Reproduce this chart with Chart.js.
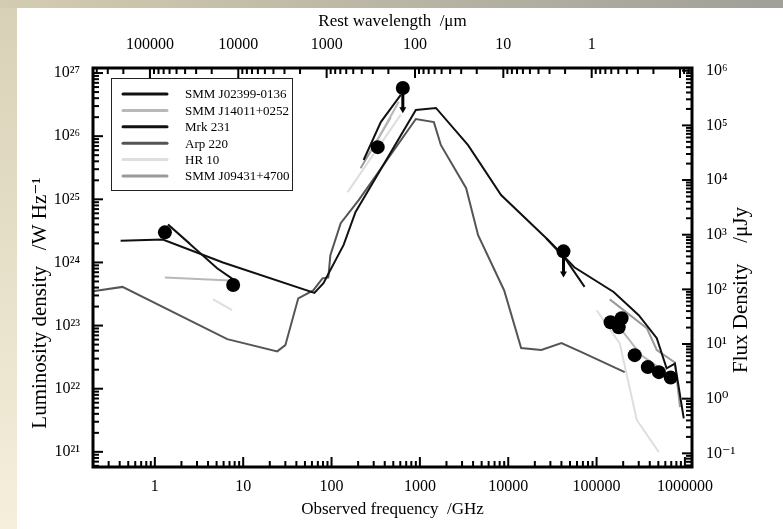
<!DOCTYPE html>
<html>
<head>
<meta charset="utf-8">
<script src="https://cdn.jsdelivr.net/npm/chart.js@4.4.0/dist/chart.umd.min.js"></script>
<style>
  body { margin: 0; width: 783px; height: 529px; overflow: hidden; position: relative;
         background: linear-gradient(180deg, #d8d0b6, #f5efdc); }
  #topstrip { position: absolute; left: 0; top: 0; width: 783px; height: 8px;
              background: linear-gradient(90deg, #d4ccb2, #a0a098); }
  #panel { position: absolute; left: 17px; top: 8px; right: 0; bottom: 0; background: #fff; }
  canvas { position: absolute; left: 0; top: 0; }
</style>
</head>
<body>
<div id="topstrip"></div>
<div id="panel"></div>
<canvas id="sed" width="783" height="529"></canvas>
<script>
// [observed frequency GHz, luminosity density W/Hz], null = gap in the line
const smmJ02399 = [[1.41, 4.0e24], [5.07, 8.1e23], [7.7, 5.4e23], null,
  [231, 4.2e25], [361, 1.67e26], [608, 4.5e26], null,
  [27000, 2.4e24], [43300, 1.2e24], [73100, 4.1e23]];
const smmJ14011 = [[1.3, 5.8e23], [7.1, 5.2e23], null,
  [277, 5.6e25], [577, 3.5e26], null,
  [1.92e5, 8.5e22], [3.2e5, 3.4e22], [6.8e5, 1.63e22]];
const mrk231 = [[0.41, 2.2e24], [1.23, 2.3e24], [5.9, 1.0e24], [64, 3.3e23], [81, 4.7e23],
  [137, 1.9e24], [187, 6.3e24], [900, 2.6e26], [1520, 2.8e26], [3510, 7.2e25],
  [8300, 1.17e25], [28500, 2.25e24], [56000, 8.4e23], [1.56e5, 3.4e23], [3.0e5, 1.46e23],
  [4.8e5, 6.3e22], [6.2e5, 2.1e22], [7.7e5, 2.5e22], [9.7e5, 3.4e21]];
const arp220 = [[0.197, 3.5e23], [0.43, 4.1e23], [6.6, 6.1e22], [24.3, 3.9e22], [30, 4.9e22],
  [42, 2.7e23], [62, 3.6e23], [79, 5.6e23], [92, 5.8e23], [97, 1.3e24], [127, 4.2e24],
  [203, 9.7e24], [900, 1.87e26], [1440, 1.67e26], [1730, 7.2e25], [3340, 1.5e25],
  [4560, 2.7e24], [9000, 3.6e23], [14000, 4.4e22], [23700, 4.1e22], [40000, 5.3e22],
  [67600, 3.8e22], [2.08e5, 1.83e22]];
const hr10 = [[4.56, 2.6e23], [7.5, 1.75e23], null,
  [152, 1.3e25], [608, 2.2e26], null,
  [1.0e5, 1.75e23], [1.83e5, 5.2e22], [2.85e5, 3.2e21], [5.07e5, 9.9e20]];
const smmJ09431 = [[1.41, 4.0e24], [2.5, 2.0e24], null,
  [213, 3.1e25], [468, 2.0e26], null,
  [1.41e5, 2.6e23], [3.7e5, 9.1e22], [4.8e5, 4.1e22], [7.7e5, 2.6e22], [8.8e5, 5.1e21]];

// measured points
const photFreq = [1.3, 7.7, 333, 641, 42200, 1.44e5, 1.92e5, 1.78e5, 2.7e5, 3.8e5, 5.07e5, 6.9e5];
const photLum = [3.0e24, 4.4e23, 6.7e25, 5.8e26, 1.5e24, 1.13e23, 1.31e23, 9.4e22, 3.4e22, 2.2e22, 1.83e22, 1.5e22];
// upper limits: arrow from the point down to the tip
const limitFreq = [641, 42200];
const limitTop = [5.8e26, 1.5e24];
const limitTip = [2.3e26, 5.8e23];

const freqTicks = [1, 10, 100, 1e3, 1e4, 1e5, 1e6];
const waveTicks = [1e5, 1e4, 1e3, 100, 10, 1];
const lumTicks = [1e21, 1e22, 1e23, 1e24, 1e25, 1e26, 1e27];
const fluxTicks = [1e-1, 1, 10, 100, 1e3, 1e4, 1e5, 1e6];

const freqMin = Math.pow(10, -0.70), freqMax = Math.pow(10, 6.08);
const lumMin = Math.pow(10, 20.76), lumMax = Math.pow(10, 27.08);
const fluxMin = Math.pow(10, -1.25), fluxMax = Math.pow(10, 6.05);
const restFactor = 8.8e4; // rest wavelength (um) = restFactor / observed GHz

const SERIF = "'Liberation Serif', 'DejaVu Serif', serif";
const SUP = { '-': '⁻', '0': '⁰', '1': '¹', '2': '²', '3': '³', '4': '⁴', '5': '⁵', '6': '⁶', '7': '⁷', '8': '⁸', '9': '⁹' };
const pow10 = v => '10' + String(Math.round(Math.log10(v))).split('').map(c => SUP[c]).join('');
const plain = v => String(Math.round(v));

const toXY = arr => arr.map(p => p ? { x: p[0], y: p[1] } : { x: null, y: null });

const series = [
  { label: 'SMM J02399-0136', color: '#111', data: smmJ02399 },
  { label: 'SMM J14011+0252', color: '#b8b8b8', data: smmJ14011 },
  { label: 'Mrk 231', color: '#111', data: mrk231 },
  { label: 'Arp 220', color: '#555', data: arp220 },
  { label: 'HR 10', color: '#dedede', data: hr10 },
  { label: 'SMM J09431+4700', color: '#9a9a9a', data: smmJ09431 }
];

const datasets = [{
  label: 'points',
  data: photFreq.map((f, i) => ({ x: f, y: photLum[i] })),
  showLine: false, pointRadius: 7, pointBackgroundColor: '#000', pointBorderWidth: 0
}].concat(series.map(s => ({
  label: s.label, data: toXY(s.data), showLine: true, borderColor: s.color,
  borderWidth: 2, pointRadius: 0, spanGaps: false, tension: 0
})));

function logTicks(min, max) {
  const out = [];
  for (let n = Math.floor(Math.log10(min)); n <= Math.ceil(Math.log10(max)); n++) {
    for (let k = 1; k < 10; k++) {
      const v = k * Math.pow(10, n);
      if (v >= min * 0.999 && v <= max * 1.001) out.push([v, k === 1]);
    }
  }
  return out;
}

function vText(ctx, text, x, y, size) {
  ctx.save();
  ctx.translate(x, y); ctx.rotate(-Math.PI / 2);
  ctx.font = size + 'px ' + SERIF; ctx.textAlign = 'center'; ctx.textBaseline = 'middle';
  ctx.fillStyle = '#000'; ctx.fillText(text, 0, 0);
  ctx.restore();
}

const framePlugin = {
  id: 'frame',
  afterDatasetsDraw(chart) {
    const { ctx, scales } = chart;
    const x = scales.x, y = scales.y;
    ctx.save();
    ctx.fillStyle = '#000'; ctx.strokeStyle = '#000'; ctx.lineWidth = 3;
    limitFreq.forEach((f, i) => {
      const px = x.getPixelForValue(f);
      const y0 = y.getPixelForValue(limitTop[i]), y1 = y.getPixelForValue(limitTip[i]);
      ctx.beginPath(); ctx.moveTo(px, y0); ctx.lineTo(px, y1 - 5); ctx.stroke();
      ctx.beginPath(); ctx.moveTo(px - 3.5, y1 - 6); ctx.lineTo(px + 3.5, y1 - 6); ctx.lineTo(px, y1); ctx.fill();
    });
    ctx.restore();
  },
  afterDraw(chart) {
    const { ctx, chartArea: a, scales } = chart;
    ctx.save();
    ctx.strokeStyle = '#000'; ctx.lineWidth = 2;
    const tick = (x1, y1, x2, y2) => { ctx.beginPath(); ctx.moveTo(x1, y1); ctx.lineTo(x2, y2); ctx.stroke(); };
    logTicks(scales.x.min, scales.x.max).forEach(([v, major]) => {
      const p = scales.x.getPixelForValue(v), l = major ? 10 : 6; tick(p, a.bottom, p, a.bottom - l);
    });
    logTicks(scales.xTop.min, scales.xTop.max).forEach(([v, major]) => {
      const p = scales.xTop.getPixelForValue(v), l = major ? 10 : 6; tick(p, a.top, p, a.top + l);
    });
    logTicks(scales.y.min, scales.y.max).forEach(([v, major]) => {
      const p = scales.y.getPixelForValue(v), l = major ? 10 : 6; tick(a.left, p, a.left + l, p);
    });
    logTicks(scales.yRight.min, scales.yRight.max).forEach(([v, major]) => {
      const p = scales.yRight.getPixelForValue(v), l = major ? 10 : 6; tick(a.right, p, a.right - l, p);
    });
    ctx.lineWidth = 3;
    ctx.strokeRect(a.left, a.top, a.right - a.left, a.bottom - a.top);

    // legend box
    const bx = a.left + 18, by = a.top + 10, bw = 181, bh = 112;
    ctx.fillStyle = '#fff'; ctx.fillRect(bx, by, bw, bh);
    ctx.lineWidth = 1; ctx.strokeStyle = '#222'; ctx.strokeRect(bx + 0.5, by + 0.5, bw, bh);
    ctx.font = '13px ' + SERIF; ctx.textBaseline = 'middle'; ctx.textAlign = 'left';
    series.forEach((s, i) => {
      const ry = by + 16 + i * 16.4;
      ctx.strokeStyle = s.color; ctx.lineWidth = 3; ctx.lineCap = 'round';
      tick(bx + 12, ry, bx + 56, ry);
      ctx.fillStyle = '#000'; ctx.fillText(s.label, bx + 74, ry + 1);
    });
    ctx.restore();

    // side titles, both read bottom to top
    vText(ctx, 'Luminosity density   /W Hz⁻¹', 40, 303, 21);
    vText(ctx, 'Flux Density    /μJy', 741, 290, 21);
  }
};

const tickFont = { family: SERIF, size: 16 };
const titleFont = { family: SERIF, size: 17 };
const setTicks = vals => s => { s.ticks = vals.map(v => ({ value: v })); };

Chart.defaults.color = '#000';
new Chart(document.getElementById('sed'), {
  type: 'scatter',
  data: { datasets },
  options: {
    responsive: false, animation: false, devicePixelRatio: 1,
    layout: { padding: 0 },
    plugins: { legend: { display: false }, tooltip: { enabled: false } },
    scales: {
      x: {
        type: 'logarithmic', position: 'bottom', min: freqMin, max: freqMax,
        afterBuildTicks: setTicks(freqTicks), afterFit: s => { s.height = 62; },
        grid: { display: false }, border: { display: false },
        ticks: { callback: plain, font: tickFont, padding: 2, autoSkip: false, maxRotation: 0 },
        title: { display: true, text: 'Observed frequency  /GHz', font: titleFont, padding: { top: 0, bottom: 9 } }
      },
      xTop: {
        type: 'logarithmic', axis: 'x', position: 'top', reverse: true,
        min: restFactor / freqMax, max: restFactor / freqMin,
        afterBuildTicks: setTicks(waveTicks), afterFit: s => { s.height = 68; },
        grid: { display: false }, border: { display: false },
        ticks: { callback: plain, font: tickFont, padding: 6, autoSkip: false, maxRotation: 0 },
        title: { display: true, text: 'Rest wavelength  /μm', font: titleFont, padding: { top: 11, bottom: 0 } }
      },
      y: {
        type: 'logarithmic', position: 'left', min: lumMin, max: lumMax,
        afterBuildTicks: setTicks(lumTicks), afterFit: s => { s.width = 93; },
        grid: { display: false }, border: { display: false },
        ticks: { callback: pow10, font: tickFont, padding: 5, autoSkip: false }
      },
      yRight: {
        type: 'logarithmic', axis: 'y', position: 'right', min: fluxMin, max: fluxMax,
        afterBuildTicks: setTicks(fluxTicks), afterFit: s => { s.width = 91; },
        grid: { display: false }, border: { display: false },
        ticks: { callback: pow10, font: tickFont, padding: 6, autoSkip: false }
      }
    }
  },
  plugins: [framePlugin]
});
</script>
</body>
</html>
